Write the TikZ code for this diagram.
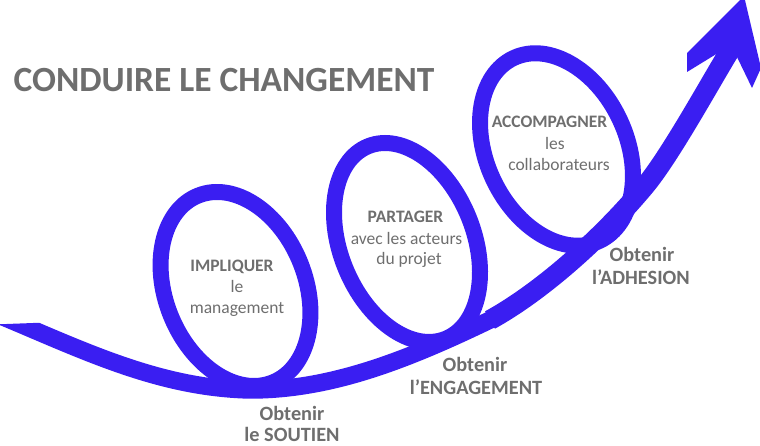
\documentclass[tikz,border=0pt]{standalone}
\usepackage{fontspec}
\setmainfont{Carlito}
\definecolor{bandblue}{RGB}{58,30,242}
\definecolor{txtgrey}{RGB}{110,110,110}
\begin{document}
\begin{tikzpicture}[x=1pt,y=1pt,
  band/.style={draw=bandblue,line width=17.5pt,line cap=butt},
  ring/.style={draw=bandblue,line width=16pt},
  bigtitle/.style={text=txtgrey,font=\fontsize{35.4}{40}\selectfont\bfseries,inner sep=0pt,anchor=base},
  loophead/.style={text=txtgrey,font=\fontsize{17.5}{21}\selectfont\bfseries,inner sep=0pt,anchor=base},
  looptext/.style={text=txtgrey,font=\fontsize{17.5}{21}\selectfont,inner sep=0pt,anchor=base},
  goal/.style={text=txtgrey,font=\fontsize{20.3}{24}\selectfont\bfseries,inner sep=0pt,anchor=base}]
\useasboundingbox (0,0) rectangle (760,446);
\clip (0,0) rectangle (760,446);
% main band (left end cut horizontally)
\begin{scope}
  \clip (-20,-20) -- (-20,121) -- (60,124) -- (60,470) -- (780,470) -- (780,-20) -- cycle;
  \draw[band] (-10,134.5) -- (15,124) .. controls (95,90) and (165,58) .. (250,56)
    .. controls (330,56) and (405,85) .. (490,126)
    .. controls (540,153.5) and (600,206) .. (645,260)
    .. controls (670,290) and (710,363) .. (729,394);
  \draw[band,line width=20pt] (490,126)
    .. controls (540,153.5) and (600,206) .. (645,260)
    .. controls (670,290) and (710,363) .. (729,394);
\end{scope}
% arrow head
\fill[bandblue] (718,393) -- (687,374) -- (687,393) -- (744,450) -- (761,378) -- (752,358) -- (737,389) -- cycle;
% loops
\draw[ring, rotate around={21.7:(235.5,157)}] (235.5,157) ellipse [x radius=70, y radius=100.6];
\draw[ring, rotate around={21.9:(407,203.5)}] (407,203.5) ellipse [x radius=66.7, y radius=103.8];
\draw[ring, rotate around={25:(556.5,296.5)}] (556.5,296.5) ellipse [x radius=70, y radius=101];
% title
\node[bigtitle] (title) at (224,354) {CONDUIRE LE CHANGEMENT};
% loop texts
\node[loophead] (l1a) at (232,174) {IMPLIQUER};
\node[looptext] (l1b) at (237,153) {le};
\node[looptext] (l1c) at (237,132) {management};
\node[loophead] (l2a) at (405.5,223) {PARTAGER};
\node[looptext] (l2b) at (406.5,201) {avec les acteurs};
\node[looptext] (l2c) at (409,181) {du projet};
\node[loophead] (l3a) at (549.5,318) {ACCOMPAGNER};
\node[looptext] (l3b) at (555,296) {les};
\node[looptext] (l3c) at (559,275) {collaborateurs};
% goals
\node[goal] (g1a) at (292,25) {Obtenir};
\node[goal] (g1b) at (292,4) {le SOUTIEN};
\node[goal] (g2a) at (475,74) {Obtenir};
\node[goal] (g2b) at (476,51) {l’ENGAGEMENT};
\node[goal] (g3a) at (642,184) {Obtenir};
\node[goal] (g3b) at (641,161) {l’ADHESION};
\end{tikzpicture}
\end{document}
